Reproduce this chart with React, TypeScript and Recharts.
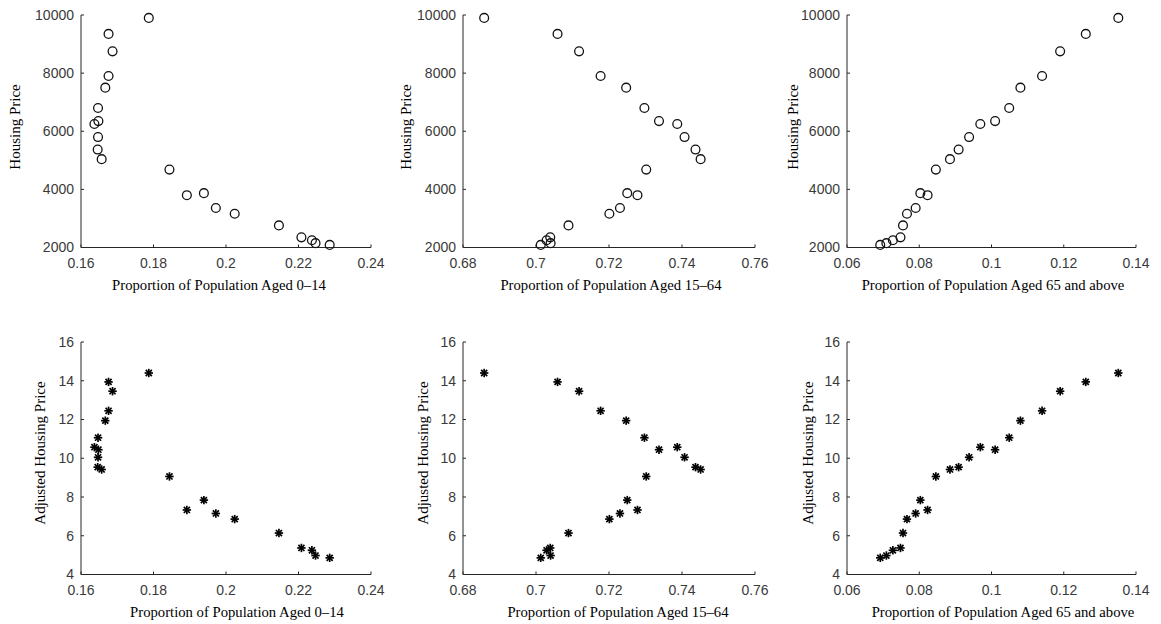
import React from 'react';
import { ScatterChart, Scatter, XAxis, YAxis, Label } from 'recharts';

// Observations (ordered by housing price, descending)
const housingPrice = [9900, 9350, 8750, 7900, 7500, 6800, 6350, 6250, 5800, 5370, 5040, 4680, 3870, 3800, 3360, 3160, 2760, 2350, 2250, 2150, 2090];
const adjustedPrice = [14.4, 13.94, 13.46, 12.45, 11.94, 11.06, 10.44, 10.57, 10.05, 9.54, 9.42, 9.06, 7.84, 7.33, 7.15, 6.86, 6.14, 5.37, 5.25, 4.98, 4.86];
const share0to14 = [0.1787, 0.1676, 0.1687, 0.1676, 0.1667, 0.1647, 0.1648, 0.1637, 0.1647, 0.1646, 0.1657, 0.1844, 0.1939, 0.1892, 0.1972, 0.2024, 0.2146, 0.2208, 0.2237, 0.2247, 0.2286];
const share15to64 = [0.6858, 0.7059, 0.7118, 0.7177, 0.7247, 0.7297, 0.7337, 0.7387, 0.7407, 0.7437, 0.7451, 0.7302, 0.725, 0.7278, 0.723, 0.7201, 0.7089, 0.7039, 0.7029, 0.704, 0.7013];
const share65plus = [0.1351, 0.1261, 0.119, 0.114, 0.108, 0.1049, 0.101, 0.0969, 0.0938, 0.0909, 0.0885, 0.0846, 0.0803, 0.0823, 0.079, 0.0766, 0.0755, 0.0748, 0.0727, 0.0709, 0.0692];

// Tick labels
const ticks0to14 = [0.16, 0.18, 0.2, 0.22, 0.24];
const ticks15to64 = [0.68, 0.7, 0.72, 0.74, 0.76];
const ticks65plus = [0.06, 0.08, 0.1, 0.12, 0.14];
const ticksPrice = [2000, 4000, 6000, 8000, 10000];
const ticksAdjusted = [4, 6, 8, 10, 12, 14, 16];

const xTitles = ['Proportion of Population Aged 0\u201314', 'Proportion of Population Aged 15\u201364', 'Proportion of Population Aged 65 and above'];
const yTitles = ['Housing Price', 'Adjusted Housing Price'];

const rows = housingPrice.map((p, i) => ({
  price: p,
  adj: adjustedPrice[i],
  s014: share0to14[i],
  s1564: share15to64[i],
  s65: share65plus[i],
}));

const CircleMark = (props: any) => {
  const { cx, cy } = props;
  if (cx == null || cy == null) return null;
  return <circle cx={cx} cy={cy} r={4.4} fill="none" stroke="#111" strokeWidth={1.3} />;
};

const StarMark = (props: any) => {
  const { cx, cy } = props;
  if (cx == null || cy == null) return null;
  const r = 4.2;
  const d = r * 0.72;
  return (
    <g stroke="#000" strokeWidth={1.7}>
      <line x1={cx - r} y1={cy} x2={cx + r} y2={cy} />
      <line x1={cx} y1={cy - r} x2={cx} y2={cy + r} />
      <line x1={cx - d} y1={cy - d} x2={cx + d} y2={cy + d} />
      <line x1={cx - d} y1={cy + d} x2={cx + d} y2={cy - d} />
    </g>
  );
};

const tickFont = '"Liberation Sans", Arial, sans-serif';
const tickFill = '#3a3a3a';
const axisColor = '#262626';
const titleFont = '"Liberation Serif", "Times New Roman", serif';
const X_MARGIN = 11;
const Y_MARGIN = 7;

const XTick = (props: any) => {
  const { x, y, payload } = props;
  const axisY = y - X_MARGIN;
  return (
    <g>
      <line x1={x} x2={x} y1={axisY} y2={axisY - 3} stroke={axisColor} strokeWidth={1} />
      <text x={x} y={y} dy="0.71em" textAnchor="middle" fontFamily={tickFont} fontSize={14} fill={tickFill}>
        {payload.value}
      </text>
    </g>
  );
};

const YTick = (props: any) => {
  const { x, y, payload } = props;
  const axisX = x + Y_MARGIN;
  return (
    <g>
      <line x1={axisX} x2={axisX + 3} y1={y} y2={y} stroke={axisColor} strokeWidth={1} />
      <text x={x} y={y} dy="0.355em" textAnchor="end" fontFamily={tickFont} fontSize={14} fill={tickFill}>
        {payload.value}
      </text>
    </g>
  );
};

type PanelProps = {
  left: number;
  top: number;
  width: number;
  height: number;
  margin: { top: number; right: number; bottom: number; left: number };
  yAxisWidth: number;
  xAxisHeight: number;
  xKey: string;
  yKey: string;
  xTicks: number[];
  yTicks: number[];
  xTitle: string;
  yTitle: string;
  xTitlePos: [number, number];
  yTitlePos: [number, number];
  shape: any;
};

const Panel = (p: PanelProps) => (
  <div style={{ position: 'absolute', left: p.left, top: p.top, width: p.width, height: p.height }}>
    <ScatterChart width={p.width} height={p.height} margin={p.margin}>
      <XAxis
        type="number"
        dataKey={p.xKey}
        domain={[p.xTicks[0], p.xTicks[p.xTicks.length - 1]]}
        ticks={p.xTicks}
        height={p.xAxisHeight}
        tickLine={false}
        tickSize={0}
        tickMargin={X_MARGIN}
        tick={<XTick />}
        stroke={axisColor}
        interval={0}
      >
        <Label
          content={() => (
            <text x={p.xTitlePos[0]} y={p.xTitlePos[1]} textAnchor="middle" dominantBaseline="central" fontFamily={titleFont} fontSize={14.7} fill="#000">
              {p.xTitle}
            </text>
          )}
        />
      </XAxis>
      <YAxis
        type="number"
        dataKey={p.yKey}
        domain={[p.yTicks[0], p.yTicks[p.yTicks.length - 1]]}
        ticks={p.yTicks}
        width={p.yAxisWidth}
        tickLine={false}
        tickSize={0}
        tickMargin={Y_MARGIN}
        tick={<YTick />}
        stroke={axisColor}
        interval={0}
      >
        <Label
          content={() => (
            <text
              x={p.yTitlePos[0]}
              y={p.yTitlePos[1]}
              textAnchor="middle"
              dominantBaseline="central"
              fontFamily={titleFont}
              fontSize={15}
              fill="#000"
              transform={`rotate(-90 ${p.yTitlePos[0]} ${p.yTitlePos[1]})`}
            >
              {p.yTitle}
            </text>
          )}
        />
      </YAxis>
      <Scatter data={rows} shape={p.shape} isAnimationActive={false} />
    </ScatterChart>
  </div>
);

const topMargin = (right: number) => ({ top: 15, right, bottom: 0, left: 0 });
const botMargin = (right: number) => ({ top: 42, right, bottom: 0, left: 0 });

export default function App() {
  return (
    <div style={{ position: 'absolute', left: 0, top: 0, width: 1161, height: 624, background: '#fff', overflow: 'hidden' }}>
      {/* Top row */}
      <Panel left={0} top={0} width={395} height={300} margin={topMargin(24)} yAxisWidth={81} xAxisHeight={52.5}
        xKey="s014" yKey="price" xTicks={ticks0to14} yTicks={ticksPrice} xTitle={xTitles[0]} yTitle={yTitles[0]}
        xTitlePos={[219, 285]} yTitlePos={[15, 127]} shape={CircleMark} />
      <Panel left={380} top={0} width={395} height={300} margin={topMargin(20)} yAxisWidth={83} xAxisHeight={52.5}
        xKey="s1564" yKey="price" xTicks={ticks15to64} yTicks={ticksPrice} xTitle={xTitles[1]} yTitle={yTitles[0]}
        xTitlePos={[231, 285]} yTitlePos={[26, 127]} shape={CircleMark} />
      <Panel left={770} top={0} width={391} height={300} margin={topMargin(25)} yAxisWidth={77} xAxisHeight={52.5}
        xKey="s65" yKey="price" xTicks={ticks65plus} yTicks={ticksPrice} xTitle={xTitles[2]} yTitle={yTitles[0]}
        xTitlePos={[223, 285]} yTitlePos={[23, 127]} shape={CircleMark} />
      {/* Bottom row */}
      <Panel left={0} top={300} width={395} height={324} margin={botMargin(24)} yAxisWidth={81} xAxisHeight={49.5}
        xKey="s014" yKey="adj" xTicks={ticks0to14} yTicks={ticksAdjusted} xTitle={xTitles[0]} yTitle={yTitles[1]}
        xTitlePos={[237, 311.5]} yTitlePos={[40, 153]} shape={StarMark} />
      <Panel left={380} top={300} width={395} height={324} margin={botMargin(20)} yAxisWidth={83} xAxisHeight={49.5}
        xKey="s1564" yKey="adj" xTicks={ticks15to64} yTicks={ticksAdjusted} xTitle={xTitles[1]} yTitle={yTitles[1]}
        xTitlePos={[238, 311.5]} yTitlePos={[43, 153]} shape={StarMark} />
      <Panel left={770} top={300} width={391} height={324} margin={botMargin(25)} yAxisWidth={77} xAxisHeight={49.5}
        xKey="s65" yKey="adj" xTicks={ticks65plus} yTicks={ticksAdjusted} xTitle={xTitles[2]} yTitle={yTitles[1]}
        xTitlePos={[233, 311.5]} yTitlePos={[38, 153]} shape={StarMark} />
    </div>
  );
}
